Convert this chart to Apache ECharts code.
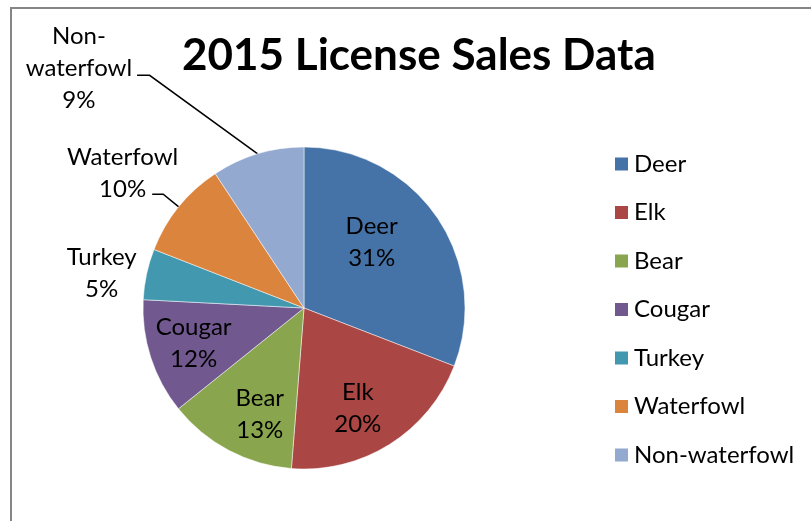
<!DOCTYPE html>
<html>
<head>
<meta charset="utf-8">
<script src="https://cdn.jsdelivr.net/npm/echarts@6/dist/echarts.min.js"></script>
<style>
  html, body { margin: 0; padding: 0; background: #fff; }
  #chart { width: 811px; height: 521px; }
</style>
</head>
<body>
<div id="chart"></div>
<script>
// license types and their share of 2015 sales (percent)
const categories = ['Deer', 'Elk', 'Bear', 'Cougar', 'Turkey', 'Waterfowl', 'Non-waterfowl']
const shares = [30.9, 20.4, 13.0, 11.6, 5.1, 9.8, 9.3]
const colors = ['#4572A7', '#AA4643', '#89A54E', '#71588F', '#4198AF', '#DB843D', '#93A9CF']
const outsideLabels = ['Turkey', 'Waterfowl', 'Non-waterfowl']

const FONT = 'Lato, "Open Sans", sans-serif'
const CENTER = [304, 308]
const RADIUS = 161

const chart = echarts.init(document.getElementById('chart'))

// leader lines for the labels drawn outside the pie
const labelLines = {
  Turkey: { show: false, length: 5, length2: 0 },
  Waterfowl: { show: true, length: 20, length2: 11 },
  'Non-waterfowl': { show: true, length: 82, length2: 97, minTurnAngle: 144 }
}
// small nudges so labels sit where Excel put them
const labelShift = {
  Deer: { dx: -28, dy: 0 },
  Elk: { dx: -8, dy: 2 },
  Bear: { dx: 10, dy: 4 },
  Waterfowl: { dx: 31, dy: -21 },
  'Non-waterfowl': { dx: 0, dy: -7 }
}

const labelText = p => {
  const lines = p.name.replace('-', '-\n').split('\n')
  lines.push(p.percent + '%')
  return lines.map(s => '{c|' + s + '}').join('\n')
}

const labelStyle = {
  fontFamily: FONT,
  fontSize: 24,
  lineHeight: 32,
  color: '#000',
  formatter: labelText,
  rich: { c: { fontFamily: FONT, fontSize: 24, lineHeight: 32, color: '#000', align: 'center' } }
}

// visible slices
const pieData = categories.map((name, i) => ({
  name,
  value: shares[i],
  itemStyle: { color: colors[i] }
}))

// same slices, transparent ring, only used to place the labels
const labelData = categories.map((name, i) => {
  const outside = outsideLabels.includes(name)
  return {
    name,
    value: shares[i],
    label: { position: outside ? 'outside' : 'inside' },
    labelLine: outside ? labelLines[name] : { show: false }
  }
})

const option = {
  animation: false,
  title: {
    text: '2015 License Sales Data',
    left: 182,
    top: 34,
    padding: 0,
    textStyle: { fontFamily: FONT, fontWeight: 'bold', fontSize: 44, color: '#000' }
  },
  legend: {
    orient: 'vertical',
    left: 613,
    top: 150,
    padding: 0,
    icon: 'rect',
    itemWidth: 15,
    itemHeight: 15,
    itemGap: 20.5,
    itemTextGap: 6,
    data: categories,
    textStyle: { fontFamily: FONT, fontSize: 24, lineHeight: 28, color: '#000' }
  },
  graphic: [{
    type: 'rect',
    shape: { x: 11, y: 8, width: 900, height: 600 },
    style: { fill: 'none', stroke: '#868686', lineWidth: 2 },
    silent: true
  }],
  series: [{
    type: 'pie',
    center: CENTER,
    radius: [0, RADIUS],
    startAngle: 90,
    clockwise: true,
    silent: true,
    itemStyle: { borderColor: '#fff', borderWidth: 0.5 },
    label: { show: false },
    labelLine: { show: false },
    data: pieData
  }, {
    type: 'pie',
    center: CENTER,
    radius: [65, RADIUS],
    startAngle: 90,
    clockwise: true,
    silent: true,
    percentPrecision: 0,
    avoidLabelOverlap: false,
    itemStyle: { color: 'rgba(0,0,0,0)' },
    label: labelStyle,
    labelLine: { lineStyle: { color: '#000', width: 1.5 } },
    labelLayout: p => {
      const s = labelShift[categories[p.dataIndex]]
      return s ? { dx: s.dx, dy: s.dy } : {}
    },
    data: labelData
  }]
}

chart.setOption(option)
</script>
</body>
</html>
